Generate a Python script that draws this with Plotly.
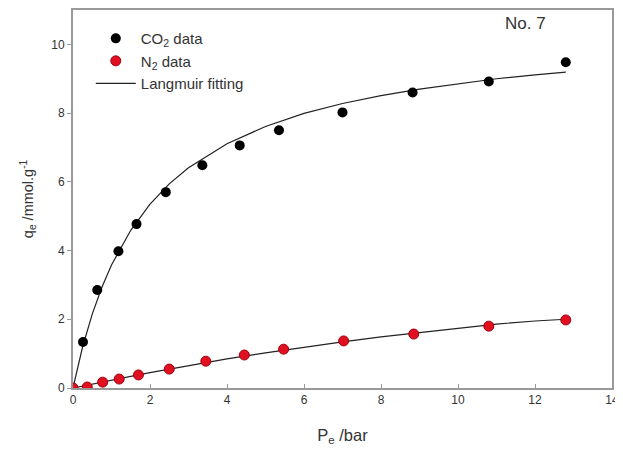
import plotly.graph_objects as go

# CO2 data
co2_p = [0.0, 0.26, 0.63, 1.18, 1.65, 2.41, 3.36, 4.33, 5.35, 7.0, 8.82, 10.8, 12.8]
co2_q = [0.0, 1.34, 2.85, 3.98, 4.77, 5.70, 6.48, 7.06, 7.50, 8.02, 8.60, 8.92, 9.48]

# N2 data
n2_p = [0.0, 0.37, 0.77, 1.2, 1.7, 2.5, 3.45, 4.45, 5.47, 7.03, 8.85, 10.8, 12.8]
n2_q = [0.0, 0.03, 0.17, 0.26, 0.38, 0.55, 0.78, 0.96, 1.13, 1.37, 1.57, 1.80, 1.98]

# Langmuir fitting curves
fit_p = [0, 0.1, 0.25, 0.5, 0.75, 1.0, 1.5, 2.0, 2.5, 3.0, 4.0, 5.0, 6.0, 7.0, 8.0, 9.0, 10.0, 11.0, 12.0, 12.8]
fit_co2 = [0, 0.51, 1.20, 2.15, 2.93, 3.58, 4.59, 5.35, 5.94, 6.41, 7.11, 7.61, 7.99, 8.28, 8.51, 8.70, 8.86, 9.00, 9.11, 9.19]
fit_n2 = [0, 0.024, 0.06, 0.12, 0.18, 0.23, 0.34, 0.45, 0.55, 0.65, 0.85, 1.02, 1.19, 1.34, 1.49, 1.62, 1.74, 1.86, 1.95, 2.00]

x_ticks = [0, 2, 4, 6, 8, 10, 12, 14]
y_ticks = [0, 2, 4, 6, 8, 10]

fig = go.Figure()
fig.add_trace(go.Scatter(x=fit_p, y=fit_co2, mode="lines", line=dict(color="#222", width=1.2),
                         showlegend=False, hoverinfo="skip"))
fig.add_trace(go.Scatter(x=fit_p, y=fit_n2, mode="lines", line=dict(color="#222", width=1.2),
                         showlegend=False, hoverinfo="skip"))
fig.add_trace(go.Scatter(x=co2_p, y=co2_q, mode="markers", name="CO<sub>2</sub> data",
                         marker=dict(color="black", size=10)))
fig.add_trace(go.Scatter(x=n2_p, y=n2_q, mode="markers", name="N<sub>2</sub> data",
                         marker=dict(color="#e01020", size=10, line=dict(color="#a00010", width=1))))
fig.add_trace(go.Scatter(x=[None], y=[None], mode="lines", name="Langmuir fitting",
                         line=dict(color="#222", width=1.2)))

axis_common = dict(showline=True, linecolor="#999", linewidth=2, mirror=True, showgrid=False,
                   zeroline=False, ticks="outside", ticklen=4, tickcolor="#999", automargin=False,
                   tickfont=dict(family="Liberation Sans, Arial", size=12, color="#333"))

fig.update_layout(
    width=623, height=456,
    margin=dict(l=65, r=19, t=2, b=76),
    paper_bgcolor="white", plot_bgcolor="white",
    font=dict(family="Liberation Sans, Arial", size=12, color="#333"),
    xaxis=dict(range=[0, 14], tickvals=x_ticks, title=dict(text="P<sub>e</sub> /bar", font=dict(size=16.5), standoff=23),
               **{**axis_common, "ticks": "inside"}),
    yaxis=dict(range=[0, 11], tickvals=y_ticks, title=dict(text="q<sub>e</sub> /mmol.g<sup>-1</sup>", font=dict(size=14.5), standoff=14),
               **axis_common),
    legend=dict(x=0.033, y=0.968, xanchor="left", yanchor="top", bgcolor="rgba(0,0,0,0)",
                font=dict(size=15, color="#333"), itemwidth=40, tracegroupgap=0),
    annotations=[dict(x=0.84, y=0.995, xref="paper", yref="paper", text="No. 7", showarrow=False,
                      font=dict(size=17, color="#333"), xanchor="center", yanchor="top")],
)

fig.write_html("out.html")
